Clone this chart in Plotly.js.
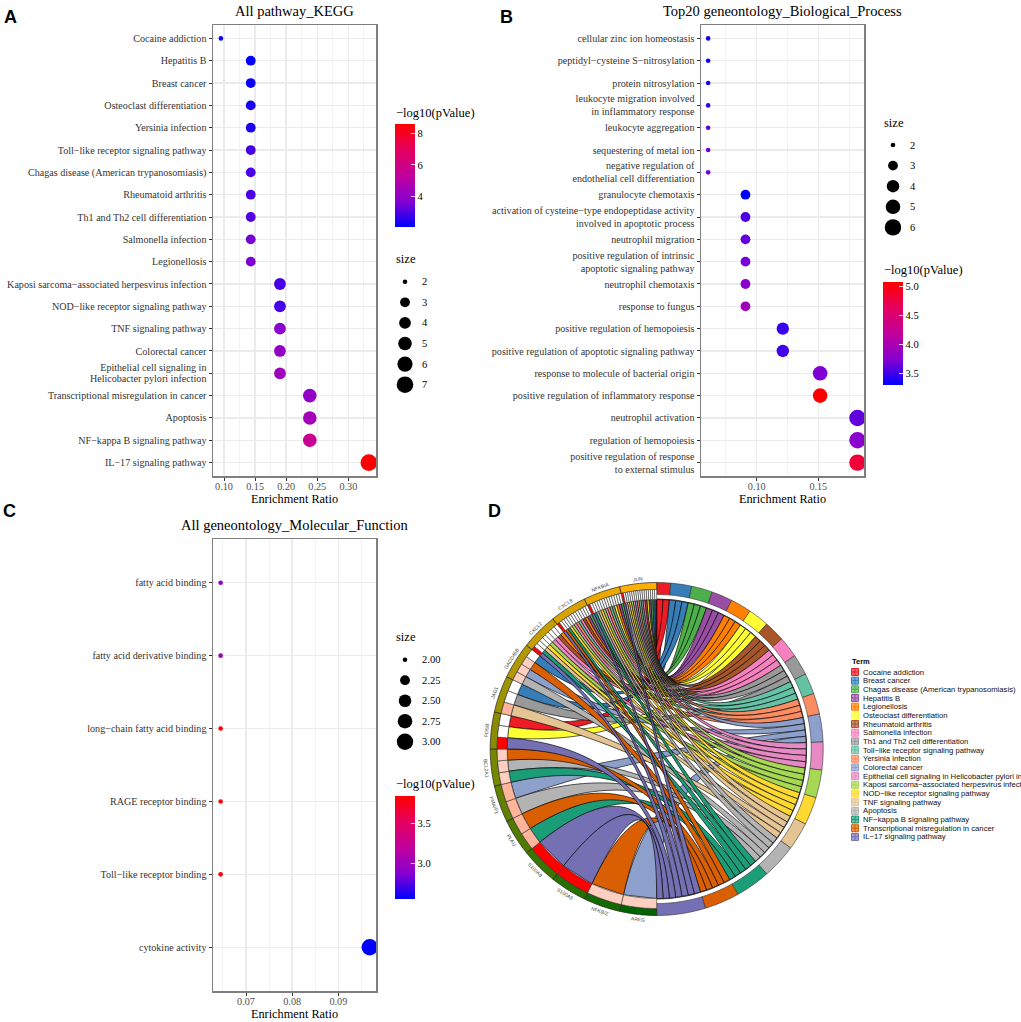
<!DOCTYPE html>
<html><head><meta charset="utf-8">
<script src="https://cdn.plot.ly/plotly-3.0.1.min.js"></script>
<style>html,body{margin:0;padding:0;background:#fff;overflow:hidden}#p{width:1021px;height:1022px}</style>
</head><body><div id="p"></div>
<script>
// ---------- Panel A data ----------
const keggTerms = ["Cocaine addiction","Hepatitis B","Breast cancer","Osteoclast differentiation","Yersinia infection","Toll−like receptor signaling pathway","Chagas disease (American trypanosomiasis)","Rheumatoid arthritis","Th1 and Th2 cell differentiation","Salmonella infection","Legionellosis","Kaposi sarcoma−associated herpesvirus infection","NOD−like receptor signaling pathway","TNF signaling pathway","Colorectal cancer","Epithelial cell signaling in<br>Helicobacter pylori infection","Transcriptional misregulation in cancer","Apoptosis","NF−kappa B signaling pathway","IL−17 signaling pathway"];
const keggRatio = [0.095,0.143,0.143,0.143,0.143,0.143,0.143,0.143,0.143,0.143,0.143,0.190,0.190,0.190,0.190,0.190,0.238,0.238,0.238,0.333];
const keggSize  = [2,3,3,3,3,3,3,3,3,3,3,4,4,4,4,4,5,5,5,7];
const keggLogP  = [2.15,2.1,2.2,2.35,2.45,2.9,2.95,3.0,3.05,3.5,3.6,2.9,2.95,3.75,4.0,4.35,4.0,4.45,5.6,8.57];
// ---------- Panel B data ----------
const bpTerms = ["cellular zinc ion homeostasis","peptidyl−cysteine S−nitrosylation","protein nitrosylation","leukocyte migration involved<br>in inflammatory response","leukocyte aggregation","sequestering of metal ion","negative regulation of<br>endothelial cell differentiation","granulocyte chemotaxis","activation of cysteine−type endopeptidase activity<br>involved in apoptotic process","neutrophil migration","positive regulation of intrinsic<br>apoptotic signaling pathway","neutrophil chemotaxis","response to fungus","positive regulation of hemopoiesis","positive regulation of apoptotic signaling pathway","response to molecule of bacterial origin","positive regulation of inflammatory response","neutrophil activation","regulation of hemopoiesis","positive regulation of response<br>to external stimulus"];
const bpRatio = [0.0606,0.0606,0.0606,0.0606,0.0606,0.0606,0.0606,0.0909,0.0909,0.0909,0.0909,0.0909,0.0909,0.1212,0.1212,0.1515,0.1515,0.1818,0.1818,0.1818];
const bpSize  = [2,2,2,2,2,2,2,3,3,3,3,3,3,4,4,5,5,6,6,6];
const bpLogP  = [3.36,3.39,3.39,3.47,3.63,3.67,3.7,3.31,3.56,3.63,3.7,3.77,3.95,3.49,3.52,3.72,5.086,3.63,3.77,4.82];
// ---------- Panel C data ----------
const mfTerms = ["fatty acid binding","fatty acid derivative binding","long−chain fatty acid binding","RAGE receptor binding","Toll−like receptor binding","cytokine activity"];
const mfRatio = [0.0645,0.0645,0.0645,0.0645,0.0645,0.0968];
const mfSize  = [2,2,2,2,2,3];
const mfLogP  = [2.95,3.02,3.82,3.83,3.83,2.56];
// ---------- Panel D data ----------
const chordTerms = ["Cocaine addiction","Breast cancer","Chagas disease (American trypanosomiasis)","Hepatitis B","Legionellosis","Osteoclast differentiation","Rheumatoid arthritis","Salmonella infection","Th1 and Th2 cell differentiation","Toll−like receptor signaling pathway","Yersinia infection","Colorectal cancer","Epithelial cell signaling in Helicobacter pylori infection","Kaposi sarcoma−associated herpesvirus infection","NOD−like receptor signaling pathway","TNF signaling pathway","Apoptosis","NF−kappa B signaling pathway","Transcriptional misregulation in cancer","IL−17 signaling pathway"];
const termColors = ["#EE1C25","#377EB8","#4DAF4A","#984EA3","#FF7F00","#FFFF33","#A65628","#F781BF","#999999","#66C2A5","#FC8D62","#8DA0CB","#E78AC3","#A6D854","#FFD92F","#E5C494","#B3B3B3","#1B9E77","#D95F02","#7570B3"];
const chordGenes = ["AREG","NFKBIZ","S100A9","S100A8","PLAU","PMAIP1","BCL2A1","FOSB","JAG1","GADD45B","CXCL2","CXCL8","NFKBIA","JUN"];
const geneTerms = [[11],[18],[19],[19],[17,18],[16,11],[17,16,18],[19,5,0],[15,8,1],[16,11,18,1],
  [19,17,15,14,13,12,7,6,4],
  [19,18,17,14,13,12,10,9,7,6,4,3,2],
  [19,17,16,15,14,13,12,10,9,8,5,4,3,2],
  [19,16,15,14,13,12,11,10,9,8,7,6,5,3,2,1,0]];
const geneCellLevels = [[1],[1],[3],[3],[2,2],[2,2],[1,1,1],[3,0,0],[2,0,0],[1,1,1,0],
  [3,0,0,0,0,0,0,0,0],
  [3,0,0,0,0,0,0,0,0,0,0,0,0],
  [3,0,0,0,0,0,0,0,0,0,0,0,0,0],
  [3,0,0,0,0,0,0,0,0,0,0,0,0,0,0,0,0]];
const cellPalette = ["#ffffff","#ffd0c0","#ffb49c","#ff0000"];

// ---------- style ----------
const serif = "Liberation Serif", sans = "Liberation Sans";
const W = 1021, H = 1022;
const scale = [[0,"#0000FF"],[0.25,"#8800D0"],[0.5,"#C1009C"],[0.75,"#E4005F"],[1,"#FF0000"]];
const traces = [], annotations = [], shapes = [];
const layout = {width:W,height:H,margin:{l:0,r:0,t:0,b:0,pad:0},paper_bgcolor:"#fff",plot_bgcolor:"rgba(0,0,0,0)",showlegend:false,annotations,shapes,hovermode:false};
function label(x,y,text,o){annotations.push(Object.assign({xref:"x5",yref:"y5",x,y,text,showarrow:false,xanchor:"left",yanchor:"middle",borderpad:0,font:{family:serif,size:11,color:"#000"}},o||{}));}

// dot panels
function dotPanel(i,cfg){
  const xn = i===1?"xaxis":"xaxis"+i, yn = i===1?"yaxis":"yaxis"+i, ca = i===1?"coloraxis":"coloraxis"+i;
  const dia = v => cfg.diam[cfg.legendVals.indexOf(v)];
  traces.push({type:"scatter",mode:"markers",xaxis:"x"+(i===1?"":i),yaxis:"y"+(i===1?"":i),x:cfg.x,y:cfg.y,hoverinfo:"skip",
    marker:{size:cfg.size.map(dia),opacity:1,color:cfg.c,coloraxis:ca,line:{width:0}}});
  layout[xn] = {domain:[cfg.box[0]/W,cfg.box[1]/W],range:cfg.xr,anchor:"y"+(i===1?"":i),tickvals:cfg.ticks,tickformat:".2f",
    ticks:"outside",ticklen:3,tickcolor:"#333",tickwidth:1,ticklabelstandoff:-3,tickfont:{family:serif,size:10.2,color:"#4d4d4d"},
    showgrid:true,gridcolor:"#ebebeb",gridwidth:1.4,zeroline:false,showline:true,mirror:true,linecolor:"#7f7f7f",linewidth:1.5,
    minor:{tickvals:cfg.minor,showgrid:true,gridcolor:"#f0f0f0",gridwidth:0.8,ticks:""},
    title:{text:"Enrichment Ratio",font:{family:serif,size:12.3,color:"#000"},standoff:2}};
  layout[yn] = {domain:[1-cfg.box[3]/H,1-cfg.box[2]/H],range:[cfg.y.length-1+0.6,-0.6],anchor:"x"+(i===1?"":i),type:"category",categoryorder:"array",categoryarray:cfg.y,
    ticks:"outside",ticklen:3,tickcolor:"#333",tickwidth:1,tickfont:{family:serif,size:10.1,color:"#333"},
    showgrid:true,gridcolor:"#ebebeb",gridwidth:1.4,zeroline:false,showline:true,mirror:true,linecolor:"#7f7f7f",linewidth:1.5};
  // colour bar
  const cb = cfg.cbar;
  layout[ca] = {cmin:cb.min,cmax:cb.max,colorscale:scale,colorbar:{x:cfg.legX/W,xanchor:"left",xpad:0,ypad:0,thickness:19.5,thicknessmode:"pixels",
    len:(cb.y1-cb.y0)/H,lenmode:"fraction",y:1-(cb.y0+cb.y1)/2/H,yanchor:"middle",outlinewidth:0,borderwidth:0,
    tickvals:cb.ticks,ticktext:cb.ticks.map(v=>cb.fmt?v.toFixed(1):String(v)),ticks:"inside",ticklen:4,tickcolor:"#fff",tickwidth:0.8,
    tickfont:{family:serif,size:10.5,color:"#000"}}};
  cb.ticks.forEach(v=>{const py = cb.y1-(v-cb.min)/(cb.max-cb.min)*(cb.y1-cb.y0);
    shapes.push({type:"line",xref:"x5",yref:"y5",x0:cfg.legX,x1:cfg.legX+4,y0:py,y1:py,line:{color:"#fff",width:0.8}});});
  label(cfg.legX,cb.titleY,"−log10(pValue)",{font:{family:serif,size:12.5,color:"#000"}});
  // size legend
  label(cfg.legX,cfg.sizeTitleY,"size",{font:{family:serif,size:12.5,color:"#000"}});
  traces.push({type:"scatter",mode:"markers",xaxis:"x5",yaxis:"y5",hoverinfo:"skip",
    x:cfg.legendVals.map(()=>cfg.legX+10),y:cfg.legendVals.map((v,k)=>cfg.sizeY0+k*cfg.sizeDy),
    marker:{size:cfg.legendVals.map(dia),opacity:1,color:"#000",line:{width:0}}});
  cfg.legendVals.forEach((v,k)=>label(cfg.legX+26,cfg.sizeY0+k*cfg.sizeDy,cfg.legendFmt?v.toFixed(2):String(v),{font:{family:serif,size:10.5,color:"#000"}}));
  // panel title
  label((cfg.box[0]+cfg.box[1])/2,cfg.titleY,cfg.title,{xanchor:"center",font:{family:serif,size:14.5,color:"#000"}});
}
dotPanel(1,{x:keggRatio,y:keggTerms,c:keggLogP,size:keggSize,box:[213,376,25,476],xr:[0.0823,0.3445],ticks:[0.10,0.15,0.20,0.25,0.30],minor:[0.125,0.175,0.225,0.275,0.325],
  title:"All pathway_KEGG",titleY:11,legX:395,legendVals:[2,3,4,5,6,7],diam:[4.6,9.8,11.8,13.6,15.2,16.6],sizeTitleY:259,sizeY0:281.7,sizeDy:20.6,
  cbar:{min:2.08,max:8.57,y0:124.3,y1:227,ticks:[4,6,8],titleY:112.7}});
dotPanel(2,{x:bpRatio,y:bpTerms,c:bpLogP,size:bpSize,box:[701,864,25,476],xr:[0.0548,0.1871],ticks:[0.10,0.15],minor:[0.075,0.125,0.175],
  title:"Top20 geneontology_Biological_Process",titleY:11,legX:883,legendVals:[2,3,4,5,6],diam:[4.6,9.8,12.4,14.6,16.4],sizeTitleY:122.7,sizeY0:145,sizeDy:20.6,
  cbar:{min:3.31,max:5.086,y0:281.7,y1:384.3,ticks:[3.5,4,4.5,5],fmt:true,titleY:270}});
dotPanel(3,{x:mfRatio,y:mfTerms,c:mfLogP,size:mfSize,box:[213,376,539,991],xr:[0.06285,0.09816],ticks:[0.07,0.08,0.09],minor:[0.065,0.075,0.085,0.095],
  title:"All geneontology_Molecular_Function",titleY:525,legX:395,legendVals:[2,2.25,2.5,2.75,3],legendFmt:true,diam:[4.6,9.8,12.6,14.6,16.4],sizeTitleY:637.3,sizeY0:659.7,sizeDy:20.5,
  cbar:{min:2.56,max:3.846,y0:796,y1:898.7,ticks:[3,3.5],fmt:true,titleY:784}});

// overlay axes in page pixels
layout.xaxis5 = {domain:[0,1],range:[0,W],visible:false,anchor:"y5",fixedrange:true};
layout.yaxis5 = {domain:[0,1],range:[H,0],visible:false,anchor:"x5",fixedrange:true};

// chord diagram: unit circle in its own axes
const CX=656.7, CY=749, R=166.5, span=1.06;
layout.xaxis4 = {domain:[(CX-R*span)/W,(CX+R*span)/W],range:[-span,span],visible:false,anchor:"y4",fixedrange:true};
layout.yaxis4 = {domain:[1-(CY+R*span)/H,1-(CY-R*span)/H],range:[-span,span],visible:false,anchor:"x4",fixedrange:true};
const rad = d => d*Math.PI/180;
const pt = (r,a) => [r*Math.cos(rad(a)),r*Math.sin(rad(a))];
function poly(xs,ys,fill,line,w){traces.push({type:"scatter",mode:"lines",xaxis:"x4",yaxis:"y4",x:xs,y:ys,fill:"toself",fillcolor:fill,hoverinfo:"skip",line:{color:line,width:w,simplify:false}});}
function sector(r0,r1,a0,a1,fill,line,w){
  const xs=[],ys=[],n=Math.max(4,Math.ceil(Math.abs(a1-a0)));
  for(let k=0;k<=n;k++){const p=pt(r1,a0+(a1-a0)*k/n);xs.push(p[0]);ys.push(p[1]);}
  for(let k=n;k>=0;k--){const p=pt(r0,a0+(a1-a0)*k/n);xs.push(p[0]);ys.push(p[1]);}
  xs.push(xs[0]);ys.push(ys[0]);
  poly(xs,ys,fill,line,w);
}
const rChord=0.898, rTerm=0.928, rGeneCell=0.958;
const termCount = chordTerms.map((_,t)=>geneTerms.reduce((n,l)=>n+(l.includes(t)?1:0),0));
const totalCells = termCount.reduce((a,b)=>a+b,0);
const perCell = 180/totalCells, perGene = 180/chordGenes.length;
// term start angles running clockwise from the top
const termStart=[];let acc=90;termCount.forEach((c,t)=>{termStart[t]=acc;acc-=c*perCell;});
// gene start angles running clockwise from the bottom
const geneStart = chordGenes.map((_,g)=>270-g*perGene);
// chord ribbons: quadratic bezier with control at the centre
function bez(a,b,n){const o=[];for(let k=0;k<=n;k++){const t=k/n,u=(1-t)*(1-t),v=t*t;o.push([u*a[0]+v*b[0],u*a[1]+v*b[1]]);}return o;}
chordTerms.forEach((_,t)=>{
  const members=[];for(let g=chordGenes.length-1;g>=0;g--){if(geneTerms[g].includes(t))members.push(g);}
  members.forEach((g,m)=>{
    const cw=perGene/geneTerms[g].length, ci=geneTerms[g].indexOf(t);
    const g0=geneStart[g]-ci*cw, g1=g0-cw;
    const t0=termStart[t]-m*perCell, t1=t0-perCell;
    const s1=bez(pt(rChord,g0),pt(rChord,t1),40), s2=bez(pt(rChord,t0),pt(rChord,g1),40);
    const all=s1.concat(s2);all.push(s1[0]);
    poly(all.map(p=>p[0]),all.map(p=>p[1]),termColors[t],"#000",0.65);
  });
});
// rings on the term side
chordTerms.forEach((_,t)=>{sector(rTerm,1,termStart[t],termStart[t]-termCount[t]*perCell,termColors[t],"#333",0.6);});
{const a=[];for(let d=90;d>=-90;d-=2)a.push(pt(rChord+0.003,d));
 traces.push({type:"scatter",mode:"lines",xaxis:"x4",yaxis:"y4",x:a.map(p=>p[0]),y:a.map(p=>p[1]),hoverinfo:"skip",line:{color:"#222",width:0.9}});}
// rings on the gene side
const hex=c=>[1,3,5].map(i=>parseInt(c.substr(i,2),16));
const c0=hex("#006400"),c1=hex("#FFAF00");
chordGenes.forEach((name,g)=>{
  const f=g/(chordGenes.length-1);
  const col="rgb("+c0.map((v,i)=>Math.round(v+(c1[i]-v)*f)).join(",")+")";
  sector(rGeneCell,1,geneStart[g],geneStart[g]-perGene,col,"#222",0.7);
  const cw=perGene/geneTerms[g].length;
  geneTerms[g].forEach((_,k)=>sector(rChord,rGeneCell,geneStart[g]-k*cw,geneStart[g]-(k+1)*cw,cellPalette[geneCellLevels[g][k]],"#333",0.6));
  const mid=geneStart[g]-perGene/2, p=pt(1.03,mid);
  const rot=mid>180?270-mid:90-mid;
  annotations.push({xref:"x4",yref:"y4",x:p[0],y:p[1],text:name,showarrow:false,textangle:rot,borderpad:0,font:{family:sans,size:5,color:"#444"}});
});

// chord legend
label(851,661,"<b>Term</b>",{font:{family:sans,size:7.5,color:"#000"}});
traces.push({type:"scatter",mode:"markers",xaxis:"x5",yaxis:"y5",hoverinfo:"skip",
  x:chordTerms.map(()=>855),y:chordTerms.map((_,k)=>672+k*8.68),
  marker:{symbol:"square-cross",size:7,color:termColors.map(c=>c+"aa"),line:{color:termColors,width:1}}});
chordTerms.forEach((n,k)=>label(862,672+k*8.68,n,{font:{family:sans,size:7.7,color:"#111"}}));

// panel letters
[["A",3,17],["B",499,17],["C",2,511],["D",487,511]].forEach(a=>label(a[1],a[2],a[0],{font:{family:sans,size:18,color:"#000"},text:"<b>"+a[0]+"</b>"}));

Plotly.newPlot("p",traces,layout,{staticPlot:true,displayModeBar:false}).then(gd=>{
  // two-line tick labels sit closer together in the reference
  gd.querySelectorAll(".ytick text").forEach(t=>{
    t.querySelectorAll("tspan.line").forEach((s,i)=>s.setAttribute("dy",(0.1+i*1.1)+"em"));
  });
});
</script></body></html>
